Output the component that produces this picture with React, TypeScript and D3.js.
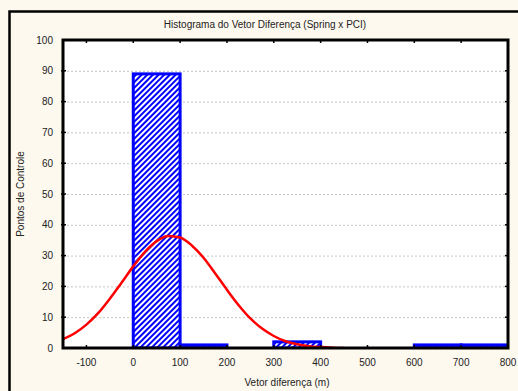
import React, { useRef, useEffect } from "react";
import * as d3 from "d3";

// histogram bins (lower edge, m) and counts
const binStarts = [0, 100, 200, 300, 400, 500, 600, 700];
const binCounts = [89, 1, 0, 2, 0, 0, 1, 1];
const binWidth = 100;

// fitted normal curve
const curveX = [-150, -125, -100, -75, -50, -25, 0, 25, 50, 75, 100, 125, 150, 175, 200, 225, 250, 275, 300, 325, 350, 375, 400, 425, 450];
const curveY = [2.9, 4.8, 7.6, 11.3, 16.0, 21.2, 26.5, 31.2, 34.7, 36.4, 35.9, 33.3, 29.3, 24.2, 18.9, 13.9, 9.6, 6.3, 3.9, 2.2, 1.2, 0.6, 0.3, 0.1, 0.0];

const xTicks = [-100, 0, 100, 200, 300, 400, 500, 600, 700, 800];
const yTicks = [0, 10, 20, 30, 40, 50, 60, 70, 80, 90, 100];

const App: React.FC = () => {
    const svgRef = useRef<SVGSVGElement | null>(null);

    useEffect(() => {
        if (!svgRef.current) return;
        const width = 518;
        const height = 391;
        const m = { left: 63, right: 508, top: 40, bottom: 348 };

        const svg = d3.select(svgRef.current);
        svg.selectAll("*").remove();

        const x = d3.scaleLinear().domain([-150, 800]).range([m.left, m.right]);
        const y = d3.scaleLinear().domain([0, 100]).range([m.bottom, m.top]);

        // hatch pattern
        const defs = svg.append("defs");
        const pat = defs.append("pattern")
            .attr("id", "hatch")
            .attr("patternUnits", "userSpaceOnUse")
            .attr("width", 4)
            .attr("height", 4)
            .attr("patternTransform", "rotate(45)");
        pat.append("rect").attr("width", 4).attr("height", 4).attr("fill", "#fff");
        pat.append("line")
            .attr("x1", 1).attr("y1", 0).attr("x2", 1).attr("y2", 4)
            .attr("stroke", "#0000ff").attr("stroke-width", 2);
        defs.append("clipPath").attr("id", "plotclip")
            .append("rect")
            .attr("x", m.left).attr("y", m.top)
            .attr("width", m.right - m.left).attr("height", m.bottom - m.top);

        // outer background / frame
        svg.append("rect").attr("width", width).attr("height", height).attr("fill", "#fdf9ef");
        svg.append("path")
            .attr("d", `M9.5,${height} V11.5 H${width}`)
            .attr("fill", "none").attr("stroke", "#000").attr("stroke-width", 2.5);

        svg.append("rect")
            .attr("x", m.left).attr("y", m.top)
            .attr("width", m.right - m.left).attr("height", m.bottom - m.top)
            .attr("fill", "#fff");

        // grid
        svg.append("g")
            .selectAll("line")
            .data(yTicks.filter(d => d > 0 && d < 100))
            .join("line")
            .attr("x1", m.left).attr("x2", m.right)
            .attr("y1", d => y(d) + 0.5).attr("y2", d => y(d) + 0.5)
            .attr("stroke", "#b8b8b8").attr("stroke-width", 0.8)
            .attr("stroke-dasharray", "2,2");

        const plot = svg.append("g").attr("clip-path", "url(#plotclip)");

        // bars
        const bins = binStarts.map((s, i) => ({ s, c: binCounts[i] })).filter(d => d.c > 0);
        plot.selectAll("rect.bar")
            .data(bins)
            .join("rect")
            .attr("class", "bar")
            .attr("x", d => x(d.s))
            .attr("y", d => y(d.c))
            .attr("width", d => x(d.s + binWidth) - x(d.s))
            .attr("height", d => y(0) - y(d.c))
            .attr("fill", "url(#hatch)")
            .attr("stroke", "#0000ff")
            .attr("stroke-width", 3);

        // normal curve
        const line = d3.line<number>()
            .x((_, i) => x(curveX[i]))
            .y(d => y(d))
            .curve(d3.curveMonotoneX);
        plot.append("path")
            .datum(curveY)
            .attr("d", line)
            .attr("fill", "none")
            .attr("stroke", "#ff0000")
            .attr("stroke-width", 2.5);

        // axes frame
        svg.append("rect")
            .attr("x", m.left).attr("y", m.top)
            .attr("width", m.right - m.left).attr("height", m.bottom - m.top)
            .attr("fill", "none").attr("stroke", "#000").attr("stroke-width", 3);

        // ticks
        const tk = svg.append("g").attr("stroke", "#000").attr("stroke-width", 1.5);
        xTicks.filter(d => d < 800).forEach(d => {
            tk.append("line").attr("x1", x(d)).attr("x2", x(d)).attr("y1", m.bottom).attr("y2", m.bottom - 3);
            tk.append("line").attr("x1", x(d)).attr("x2", x(d)).attr("y1", m.top).attr("y2", m.top + 3);
        });
        yTicks.filter(d => d > 0 && d < 100).forEach(d => {
            tk.append("line").attr("x1", m.left - 2).attr("x2", m.left + 3).attr("y1", y(d)).attr("y2", y(d));
            tk.append("line").attr("x1", m.right).attr("x2", m.right - 3).attr("y1", y(d)).attr("y2", y(d));
        });

        const font = "Liberation Sans, Arial, sans-serif";
        svg.append("g")
            .selectAll("text")
            .data(yTicks)
            .join("text")
            .attr("x", 53)
            .attr("y", d => y(d) + 3.5)
            .attr("text-anchor", "end")
            .attr("font-family", font).attr("font-size", 10).attr("fill", "#222")
            .text(d => d);

        svg.append("g")
            .selectAll("text")
            .data(xTicks)
            .join("text")
            .attr("x", d => x(d))
            .attr("y", 366)
            .attr("text-anchor", "middle")
            .attr("font-family", font).attr("font-size", 10).attr("fill", "#222")
            .text(d => d);

        svg.append("text")
            .attr("x", 265).attr("y", 28)
            .attr("text-anchor", "middle")
            .attr("font-family", font).attr("font-size", 10).attr("fill", "#222")
            .text("Histograma do Vetor Diferença (Spring x PCI)");

        svg.append("text")
            .attr("x", 287).attr("y", 386)
            .attr("text-anchor", "middle")
            .attr("font-family", font).attr("font-size", 10).attr("fill", "#222")
            .text("Vetor diferença (m)");

        svg.append("text")
            .attr("transform", `translate(24,${(m.top + m.bottom) / 2}) rotate(-90)`)
            .attr("text-anchor", "middle")
            .attr("font-family", font).attr("font-size", 10).attr("fill", "#222")
            .text("Pontos de Controle");

        svg.attr("width", width).attr("height", height).attr("viewBox", `0 0 ${width} ${height}`)
            .style("display", "block");
    }, []);

    return (
        <div style={{ position: "absolute", left: 0, top: 0 }}>
            <svg ref={svgRef} />
        </div>
    );
};

export default App;
